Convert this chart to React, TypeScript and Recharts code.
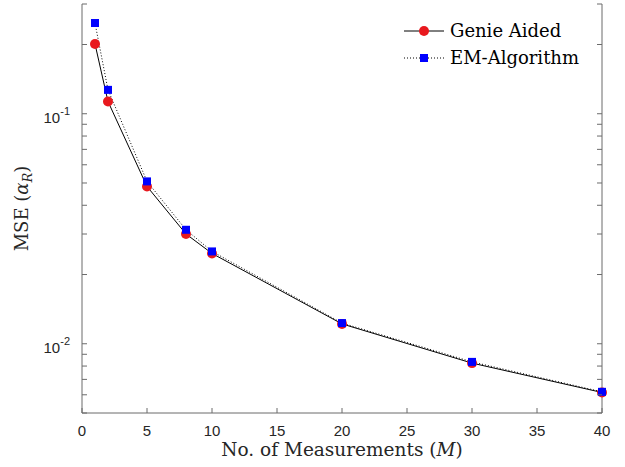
import { LineChart, Line, XAxis, YAxis } from 'recharts'

const measurements = [1, 2, 5, 8, 10, 20, 30, 40]
const genieAided = [0.201, 0.113, 0.0483, 0.030, 0.0247, 0.0122, 0.00824, 0.00614]
const emAlgorithm = [0.248, 0.127, 0.0508, 0.0313, 0.0252, 0.0123, 0.00834, 0.00618]

const xTicks = [0, 5, 10, 15, 20, 25, 30, 35, 40]
const yTicks = [0.005, 0.006, 0.007, 0.008, 0.009, 0.01, 0.02, 0.03, 0.04, 0.05, 0.06, 0.07, 0.08, 0.09, 0.1, 0.2, 0.3]

const AXIS = '#6b6b6b'
const TEXT = '#262626'
const RED = '#e8191e'
const BLUE = '#0000ff'
const SANS = '"Liberation Sans", Arial, Helvetica, sans-serif'
const SERIF = '"DejaVu Serif", "Liberation Serif", serif'

const data = measurements.map((m, i) => ({ m, genie: genieAided[i], em: emAlgorithm[i] }))

const decade = (v: number) => {
  const e = Math.log10(v)
  return Math.abs(e - Math.round(e)) < 1e-6 ? Math.round(e) : null
}

// ticks point inward, like matlab
const LeftTick = ({ x, y, payload }: any) => {
  const e = decade(payload.value)
  return (
    <g>
      <line x1={x} y1={y} x2={x + 5} y2={y} stroke={AXIS} />
      {e !== null && (
        <text x={x - 12} y={y + 9} textAnchor="end" fontFamily={SANS} fontSize={15} fill={TEXT}>
          10<tspan dy={-8} fontSize={11}>{e}</tspan>
        </text>
      )}
    </g>
  )
}

const RightTick = ({ x, y }: any) => <line x1={x} y1={y} x2={x - 5} y2={y} stroke={AXIS} />

const BottomTick = ({ x, y, payload }: any) => (
  <g>
    <line x1={x} y1={y} x2={x} y2={y - 5} stroke={AXIS} />
    <text x={x} y={y + 23} textAnchor="middle" fontFamily={SANS} fontSize={15} fill={TEXT}>
      {payload.value}
    </text>
  </g>
)

const TopTick = ({ x, y }: any) => <line x1={x} y1={y} x2={x} y2={y + 5} stroke={AXIS} />

const RedDot = ({ cx, cy }: any) => <circle cx={cx} cy={cy} r={5} fill={RED} />
const BlueDot = ({ cx, cy }: any) => <rect x={cx - 4} y={cy - 4} width={8} height={8} fill={BLUE} />

const legendItems = [
  { name: 'Genie Aided', dash: undefined, marker: <circle cx={20} cy={9} r={5} fill={RED} /> },
  { name: 'EM-Algorithm', dash: '1 2', marker: <rect x={16} y={5} width={8} height={8} fill={BLUE} /> },
]

const LegendBox = () => (
  <div style={{ position: 'absolute', left: 404, top: 17, fontFamily: SERIF, fontSize: 18, color: '#000' }}>
    {legendItems.map(item => (
      <div key={item.name} style={{ display: 'flex', alignItems: 'center', height: 27 }}>
        <svg width={40} height={18} style={{ marginRight: 6 }}>
          <line x1={0} y1={9} x2={40} y2={9} stroke="#000" strokeDasharray={item.dash} />
          {item.marker}
        </svg>
        <span>{item.name}</span>
      </div>
    ))}
  </div>
)

export default function App() {
  return (
    <div style={{ position: 'absolute', left: 0, top: 0, width: 625, height: 467, background: '#fff' }}>
      <LineChart width={625} height={467} data={data} margin={{ top: 4, right: 0, bottom: 0, left: 0 }}>
        <XAxis
          dataKey="m" type="number" domain={[0, 40]} ticks={xTicks} interval={0}
          height={54} tickSize={0} tickMargin={0} stroke={AXIS} tick={<BottomTick />}
          label={({ viewBox }: any) => (
            <text x={viewBox.x + viewBox.width / 2} y={viewBox.y + 43} textAnchor="middle" fontFamily={SERIF} fontSize={18.5} fill={TEXT}>
              No. of Measurements (<tspan fontStyle="italic">M</tspan>)
            </text>
          )}
        />
        <XAxis
          xAxisId="top" orientation="top" dataKey="m" type="number" domain={[0, 40]} ticks={xTicks}
          interval={0} height={0} tickSize={0} tickMargin={0} stroke={AXIS} tick={<TopTick />}
        />
        <YAxis
          scale="log" type="number" domain={[0.005, 0.3]} ticks={yTicks} interval={0} allowDataOverflow
          width={82} tickSize={0} tickMargin={0} stroke={AXIS} tick={<LeftTick />}
          label={({ viewBox }: any) => (
            <text
              x={28} y={viewBox.y + viewBox.height / 2} textAnchor="middle"
              transform={`rotate(-90 28 ${viewBox.y + viewBox.height / 2})`}
              fontFamily={SERIF} fontSize={18} fill={TEXT}
            >
              MSE (<tspan fontStyle="italic">α</tspan>
              <tspan fontStyle="italic" fontSize={13} dy={4}>R</tspan>
              <tspan dy={-4}>)</tspan>
            </text>
          )}
        />
        <YAxis
          yAxisId="right" orientation="right" scale="log" type="number" domain={[0.005, 0.3]} ticks={yTicks}
          interval={0} allowDataOverflow width={23} tickSize={0} tickMargin={0} stroke={AXIS} tick={<RightTick />}
        />
        <Line
          dataKey="genie" name="Genie Aided" stroke="#000" strokeWidth={1}
          dot={<RedDot />} activeDot={false} isAnimationActive={false}
        />
        <Line
          dataKey="em" name="EM-Algorithm" stroke="#000" strokeWidth={1} strokeDasharray="1 2"
          dot={<BlueDot />} activeDot={false} isAnimationActive={false}
        />
      </LineChart>
      <LegendBox />
    </div>
  )
}
